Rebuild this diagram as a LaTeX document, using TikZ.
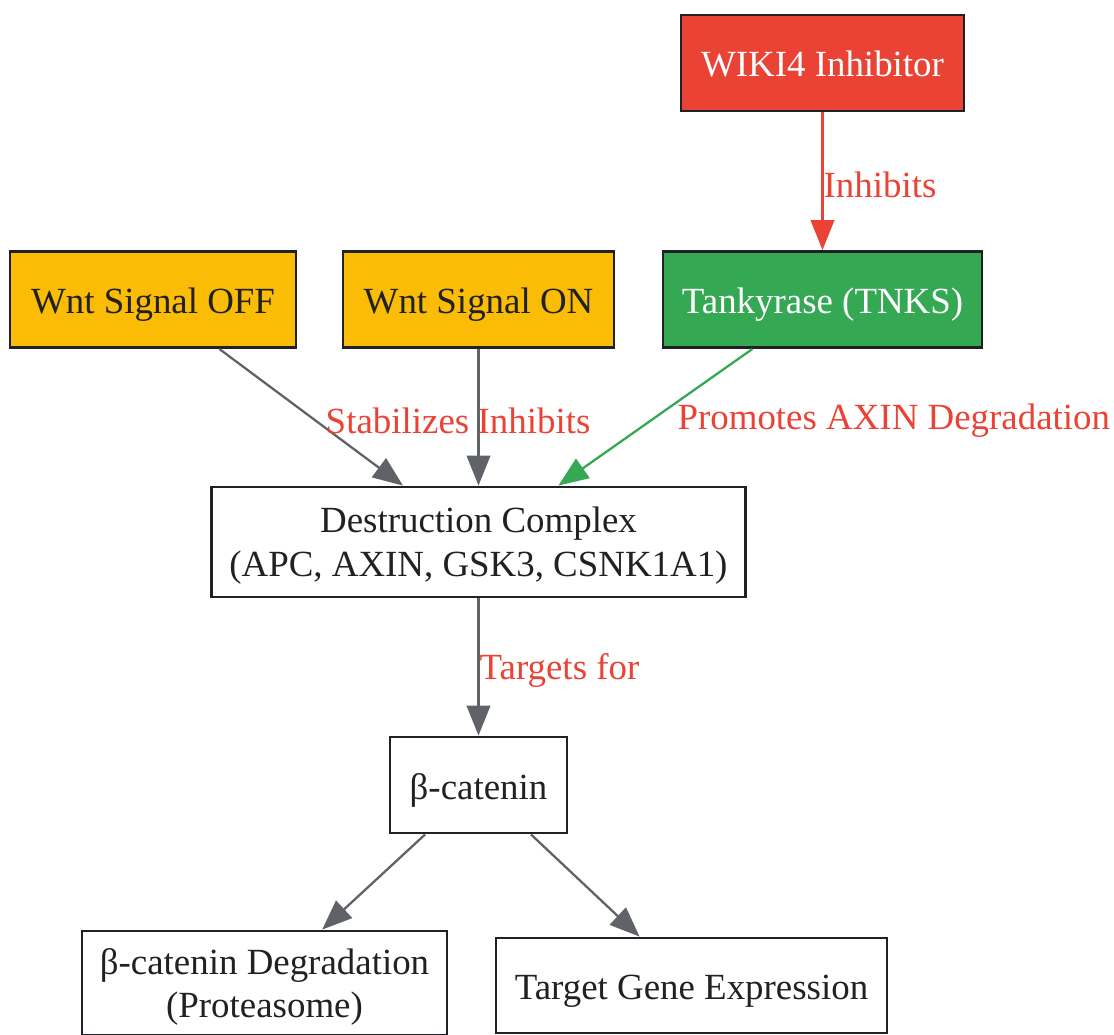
\documentclass[tikz,border=0pt]{standalone}
\usepackage{fontspec}
\setmainfont{Liberation Serif}
\usetikzlibrary{positioning, arrows.meta}

\definecolor{wntyellow}{HTML}{FBBC05}
\definecolor{tnksgreen}{HTML}{34A853}
\definecolor{inhred}{HTML}{EA4335}
\definecolor{edgegray}{HTML}{5F6368}
\definecolor{boxline}{HTML}{202124}

\begin{document}
\begin{tikzpicture} [node distance = 2cm,
            on grid,
            font = \fontsize{21}{25}\selectfont,
            box/.style = {draw=boxline, line width=1.6pt, text=boxline,
                align=center, inner sep=0pt, text depth=0pt,
                minimum height=1.92cm},
            oneline/.style = {text height=0.56cm},
            twoline/.style = {text depth=-0.1cm},
            lbl/.style = {text=inhred, anchor=west, inner sep=0pt, yshift=-0.07cm},
            >={Triangle[length=0.6cm, width=0.47cm]}]

        \useasboundingbox (0,0) rectangle (22.28,-20.7);

        % Tankyrase
        \node (tnks) [box, oneline,
            fill = tnksgreen, text = white,
            minimum width = 6.38cm] at (16.45,-5.99) {Tankyrase (TNKS)};

        % Inhibitor
        \node (wiki) [box, oneline,
            fill = inhred, text = white,
            minimum width = 5.66cm,
            above = 4.73cm of tnks] {WIKI4 Inhibitor};

        % Wnt signal on
        \node (wnton) [box, oneline,
            fill = wntyellow,
            minimum width = 5.42cm,
            left = 6.88cm of tnks] {Wnt Signal ON};

        % Wnt signal off
        \node (wntoff) [box, oneline,
            fill = wntyellow,
            minimum width = 5.72cm,
            left = 6.51cm of wnton] {Wnt Signal OFF};

        % Destruction complex
        \node (dc) [box, twoline,
            minimum width = 10.68cm, minimum height = 2.2cm,
            below = 4.85cm of wnton] {Destruction Complex\\(APC, AXIN, GSK3, CSNK1A1)};

        % beta-catenin
        \node (beta) [box, oneline,
            minimum width = 3.54cm,
            below = 4.86cm of dc] {β-catenin};

        % Degradation
        \node (deg) [box, twoline,
            minimum width = 7.3cm, minimum height = 2.08cm,
            below left = 3.96cm and 4.28cm of beta] {β-catenin Degradation\\(Proteasome)};

        % Target genes
        \node (genes) [box, oneline,
            minimum width = 7.82cm, minimum height = 1.9cm,
            below right = 4.01cm and 4.26cm of beta] {Target Gene Expression};

        % Arrows
        \path [->, line width=1.3pt]
            (wiki)   edge [inhred]    node [lbl] {Inhibits} (tnks)
            (wntoff) edge [edgegray]  node [lbl, xshift=0.27cm] {Stabilizes} (dc)
            (wnton)  edge [edgegray]  node [lbl, xshift=-0.04cm] {Inhibits} (dc)
            (tnks)   edge [tnksgreen] node [lbl, xshift=0.42cm] {Promotes AXIN Degradation} (dc)
            (dc)     edge [edgegray]  node [lbl] {Targets for} (beta)
            (beta)   edge [edgegray]  (deg)
            (beta)   edge [edgegray]  (genes);
        \end{tikzpicture}
\end{document}
